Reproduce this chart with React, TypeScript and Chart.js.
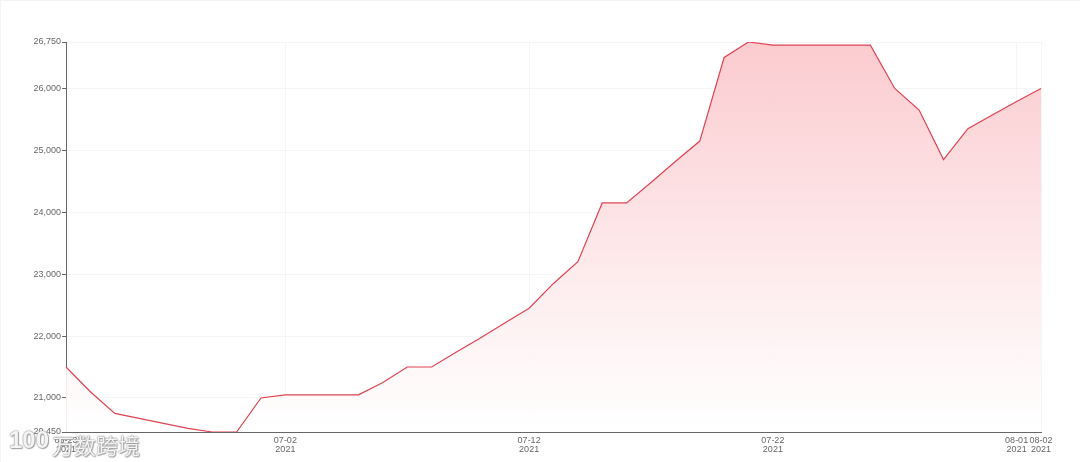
import React, { useEffect, useRef } from "react";
import { Chart, registerables } from "chart.js";

Chart.register(...registerables);

const dates = [
  "06-23", "06-24", "06-25", "06-26", "06-27", "06-28", "06-29", "06-30", "07-01", "07-02",
  "07-03", "07-04", "07-05", "07-06", "07-07", "07-08", "07-09", "07-10", "07-11", "07-12",
  "07-13", "07-14", "07-15", "07-16", "07-17", "07-18", "07-19", "07-20", "07-21", "07-22",
  "07-23", "07-24", "07-25", "07-26", "07-27", "07-28", "07-29", "07-30", "07-31", "08-01", "08-02",
];
const prices = [
  21500, 21100, 20750, 20670, 20590, 20510, 20450, 20450, 21000, 21050,
  21050, 21050, 21050, 21250, 21500, 21500, 21740, 21970, 22210, 22450,
  22850, 23200, 24150, 24150, 24480, 24820, 25150, 26500, 26750, 26700,
  26700, 26700, 26700, 26700, 26000, 25650, 24850, 25350, 25570, 25790, 26000,
];
const yTicks = [20450, 21000, 22000, 23000, 24000, 25000, 26000, 26750];
const shownDates = ["06-23", "07-02", "07-12", "07-22", "08-01", "08-02"];
const tickYear = "2021";
const watermarkLogo = "100";
const watermarkText = "万数跨境";

const markStyle: React.CSSProperties = {
  position: "absolute",
  color: "rgba(255,255,255,0.92)",
  textShadow: "0 0 1px #777, 0 0 2px #999, 1px 1px 1px #aaa",
  whiteSpace: "nowrap",
  lineHeight: 1,
};

export default function App() {
  const ref = useRef<HTMLCanvasElement>(null);
  useEffect(() => {
    document.body.style.margin = "0";
    const chart = new Chart(ref.current!, {
      type: "line",
      data: {
        labels: dates,
        datasets: [
          {
            data: prices,
            borderColor: "#df4352",
            borderWidth: 1.2,
            pointRadius: 0,
            tension: 0,
            fill: "origin",
            backgroundColor: (ctx: any) => {
              const area = ctx.chart.chartArea;
              if (!area) return "transparent";
              const g = ctx.chart.ctx.createLinearGradient(0, area.top, 0, area.bottom);
              g.addColorStop(0, "rgba(251,203,207,1)");
              g.addColorStop(1, "rgba(255,255,255,0.9)");
              return g;
            },
          },
        ],
      },
      options: {
        responsive: false,
        animation: false,
        layout: { padding: { top: 42, right: 39, left: 0, bottom: 0 } },
        plugins: { legend: { display: false }, tooltip: { enabled: false } },
        scales: {
          x: {
            type: "category",
            offset: false,
            afterFit: (s: any) => { s.height = 30; },
            border: { color: "#666", width: 1 },
            grid: {
              color: (c: any) => (shownDates.includes(dates[c.index]) ? "#f5f5f5" : "transparent"),
              drawTicks: false,
            },
            ticks: {
              autoSkip: false,
              maxRotation: 0,
              padding: 4,
              color: "#666",
              font: { family: "Liberation Sans", size: 9, lineHeight: 1 },
              callback: (_v: any, i: number) =>
                shownDates.includes(dates[i]) ? [dates[i], tickYear] : "",
            },
          },
          y: {
            min: 20450,
            max: 26750,
            afterFit: (s: any) => { s.width = 66; },
            afterBuildTicks: (s: any) => { s.ticks = yTicks.map((value) => ({ value })); },
            border: { color: "#666", width: 1 },
            grid: { color: "#f5f5f5", tickColor: "#666", tickLength: 4 },
            ticks: {
              padding: 1,
              color: "#666",
              font: { family: "Liberation Sans", size: 9 },
              callback: (v: any) => Number(v).toLocaleString("en-US"),
            },
          },
        },
      },
    });
    return () => chart.destroy();
  }, []);
  return (
    <div style={{ position: "relative", width: 1080, height: 462, overflow: "hidden" }}>
      <canvas ref={ref} width={1080} height={462} style={{ display: "block" }} />
      <div
        style={{
          position: "absolute",
          inset: 0,
          borderTop: "1px solid #f3f3f3",
          borderLeft: "1px solid #f3f3f3",
          pointerEvents: "none",
        }}
      />
      <div style={{ ...markStyle, left: 9, top: 428, fontSize: 24, fontFamily: "Liberation Sans", fontWeight: 700 }}>
        {watermarkLogo}
      </div>
      <div style={{ ...markStyle, left: 52, top: 433, fontSize: 22, fontFamily: "Noto Sans CJK SC" }}>
        {watermarkText}
      </div>
    </div>
  );
}
